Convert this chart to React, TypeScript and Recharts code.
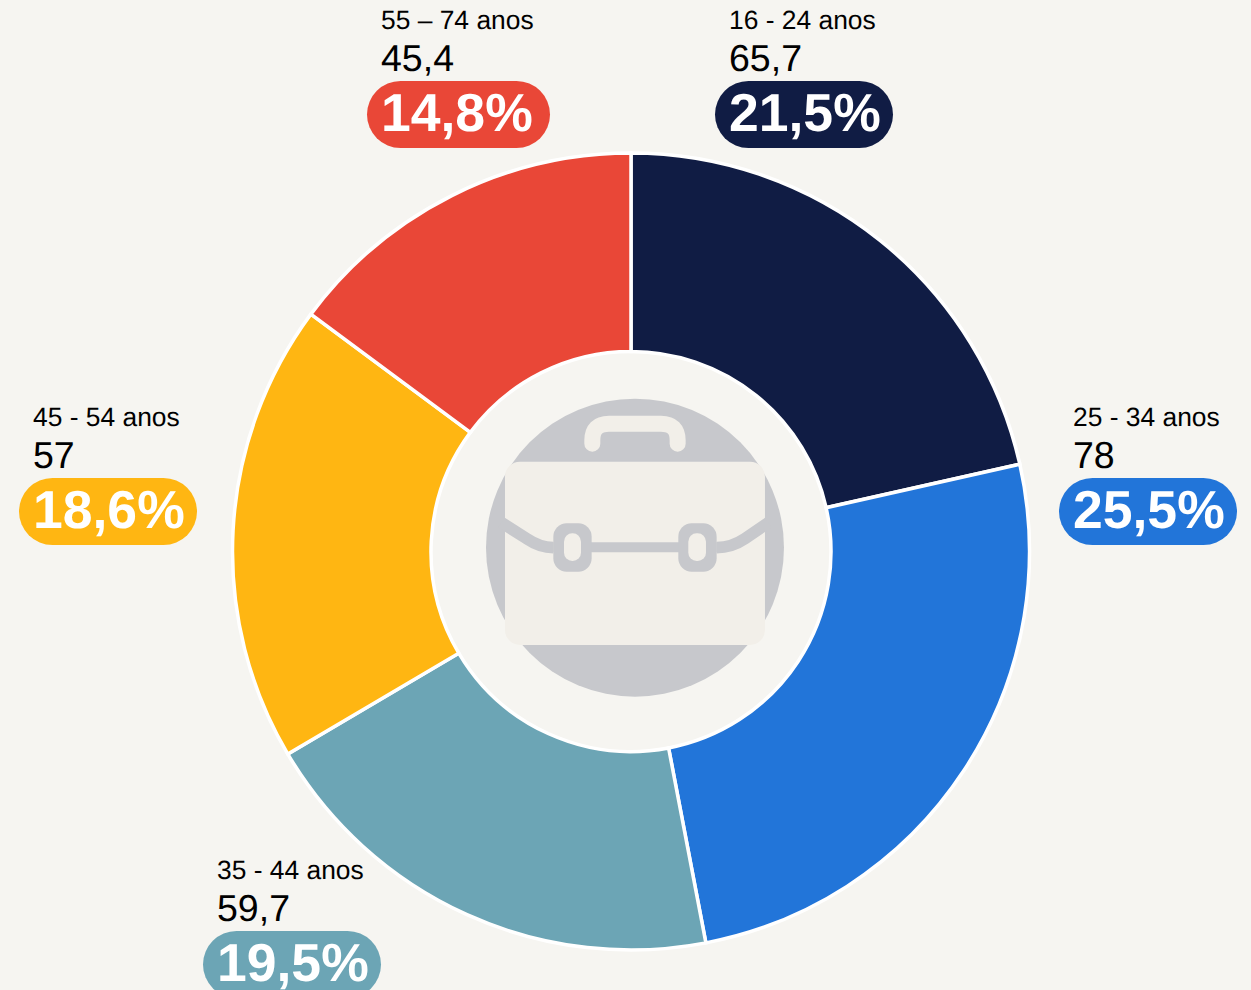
// App.tsx
import { PieChart, Pie, Cell } from 'recharts';

const AGE_GROUPS = ['16 - 24 anos', '25 - 34 anos', '35 - 44 anos', '45 - 54 anos', '55 – 74 anos'];
const VALUES = [65.7, 78, 59.7, 57, 45.4];
const VALUE_LABELS = ['65,7', '78', '59,7', '57', '45,4'];
const PERCENT_LABELS = ['21,5%', '25,5%', '19,5%', '18,6%', '14,8%'];
const COLORS = ['#101c44', '#2275d9', '#6ca5b5', '#ffb612', '#e94737'];

// left edge and top of each label block (pill is 14px left of the text)
const LABEL_POS = [
  { x: 729, y: 0 },
  { x: 1073, y: 397 },
  { x: 217, y: 850 },
  { x: 33, y: 397 },
  { x: 381, y: 0 },
];

const FONT = '"Liberation Sans", Arial, sans-serif';
const BG = '#f6f5f1';
const ICON_GREY = '#c7c8cc';
const ICON_CREAM = '#f2efe9';

const chartData = AGE_GROUPS.map((age, i) => ({ age, value: VALUES[i] }));

const renderLabel = ({ index }: { index: number }) => {
  const { x, y } = LABEL_POS[index];
  const pillWidth = index === 4 ? 183 : 178;
  return (
    <g key={index} fontFamily={FONT} textRendering="geometricPrecision">
      <text x={x} y={y + 29} fontSize={26.4} fill="#000">
        {AGE_GROUPS[index]}
      </text>
      <text x={x} y={y + 71} fontSize={37.5} fill="#000">
        {VALUE_LABELS[index]}
      </text>
      <rect x={x - 14} y={y + 81} width={pillWidth} height={67} rx={33.5} fill={COLORS[index]} />
      <text x={x} y={y + 131} fontSize={53.5} fontWeight={700} fill="#fff">
        {PERCENT_LABELS[index]}
      </text>
    </g>
  );
};

// briefcase drawn in a 3x coordinate space
const BriefcaseIcon = () => (
  <g transform="translate(470 380) scale(0.3333)">
    <circle cx={495} cy={503} r={447} fill={ICON_GREY} />
    <path
      d="M367 191 V181 Q367 131 417 131 H573 Q623 131 623 181 V191"
      fill="none"
      stroke={ICON_CREAM}
      strokeWidth={48}
      strokeLinecap="round"
    />
    <rect x={105} y={245} width={780} height={550} rx={45} fill={ICON_CREAM} />
    <path d="M95 428 L170 476 Q210 503 250 503" fill="none" stroke={ICON_GREY} strokeWidth={35} />
    <path d="M740 503 Q785 503 825 476 L895 428" fill="none" stroke={ICON_GREY} strokeWidth={35} />
    <path d="M250 502 H740" fill="none" stroke={ICON_GREY} strokeWidth={30} />
    <rect x={250} y={430} width={115} height={145} rx={40} fill={ICON_GREY} />
    <rect x={625} y={430} width={115} height={145} rx={40} fill={ICON_GREY} />
    <rect x={282} y={460} width={51} height={83} rx={25} fill={ICON_CREAM} />
    <rect x={655} y={460} width={53} height={83} rx={25} fill={ICON_CREAM} />
  </g>
);

export default function App() {
  return (
    <div style={{ position: 'fixed', left: 0, top: 0, width: 1251, height: 990, background: BG, overflow: 'hidden' }}>
      <PieChart width={1251} height={990} margin={{ top: 0, right: 0, bottom: 0, left: 0 }}>
        <Pie
          data={chartData}
          dataKey="value"
          nameKey="age"
          cx={631}
          cy={551.5}
          innerRadius={200}
          outerRadius={398.5}
          startAngle={90}
          endAngle={-270}
          stroke="#fff"
          strokeWidth={3.5}
          label={renderLabel}
          labelLine={false}
          isAnimationActive={false}
        >
          {chartData.map((d, i) => (
            <Cell key={d.age} fill={COLORS[i]} />
          ))}
        </Pie>
        <BriefcaseIcon />
      </PieChart>
    </div>
  );
}
